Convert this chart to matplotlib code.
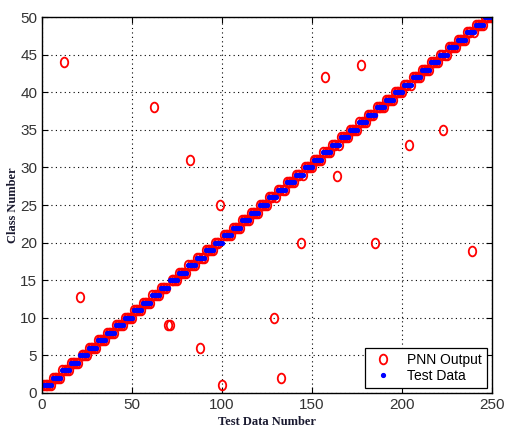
import matplotlib
matplotlib.use("Agg")
import matplotlib.pyplot as plt
from matplotlib.path import Path
from matplotlib.transforms import Affine2D

# test data: class number of each of the 250 test samples
test_class = [
    1, 1, 1, 1, 1, 2, 2, 2, 2, 2, 3, 3, 3, 3, 3, 4, 4, 4, 4, 4, 5, 5, 5, 5, 5,
    6, 6, 6, 6, 6, 7, 7, 7, 7, 7, 8, 8, 8, 8, 8, 9, 9, 9, 9, 9, 10, 10, 10, 10, 10,
    11, 11, 11, 11, 11, 12, 12, 12, 12, 12, 13, 13, 13, 13, 13, 14, 14, 14, 14, 14, 15, 15, 15, 15, 15,
    16, 16, 16, 16, 16, 17, 17, 17, 17, 17, 18, 18, 18, 18, 18, 19, 19, 19, 19, 19, 20, 20, 20, 20, 20,
    21, 21, 21, 21, 21, 22, 22, 22, 22, 22, 23, 23, 23, 23, 23, 24, 24, 24, 24, 24, 25, 25, 25, 25, 25,
    26, 26, 26, 26, 26, 27, 27, 27, 27, 27, 28, 28, 28, 28, 28, 29, 29, 29, 29, 29, 30, 30, 30, 30, 30,
    31, 31, 31, 31, 31, 32, 32, 32, 32, 32, 33, 33, 33, 33, 33, 34, 34, 34, 34, 34, 35, 35, 35, 35, 35,
    36, 36, 36, 36, 36, 37, 37, 37, 37, 37, 38, 38, 38, 38, 38, 39, 39, 39, 39, 39, 40, 40, 40, 40, 40,
    41, 41, 41, 41, 41, 42, 42, 42, 42, 42, 43, 43, 43, 43, 43, 44, 44, 44, 44, 44, 45, 45, 45, 45, 45,
    46, 46, 46, 46, 46, 47, 47, 47, 47, 47, 48, 48, 48, 48, 48, 49, 49, 49, 49, 49, 50, 50, 50, 50, 50,
]
test_number = list(range(1, len(test_class) + 1))

# misclassified samples: test number -> PNN output
wrong_number = [12, 21, 62, 70, 71, 82, 88, 99, 100, 129, 133, 144, 157, 164, 177, 185, 204, 223, 239]
wrong_output = [44, 12.8, 38, 9.1, 9.1, 31, 6, 25, 1, 10, 2, 20, 42, 28.8, 43.6, 20, 33, 35, 18.9]

pnn_output = list(test_class)
for n, v in zip(wrong_number, wrong_output):
    pnn_output[n - 1] = v

plt.rcParams['font.family'] = ['Liberation Sans Narrow', 'Liberation Sans', 'DejaVu Sans']

# slightly tall circle, like the stretched original
ellipse = Path.unit_circle().transformed(Affine2D().scale(1.0, 1.3))

fig = plt.figure(figsize=(5.08, 4.32), dpi=100)
ax = fig.add_axes([0.0827, 0.0903, 0.8858, 0.8703])

ax.plot(test_number, pnn_output, linestyle='none', marker=ellipse, color='red',
        mfc='none', ms=7, mew=1.3, label='PNN Output')
ax.plot(test_number, test_class, '.', color='blue', ms=5.5, label='Test Data')

ax.set_xlim(0, 250)
ax.set_ylim(0, 50)
ax.set_xticks(range(0, 251, 50))
ax.set_yticks(range(0, 51, 5))
ax.grid(True, color='black', linestyle=(0, (1, 3)), linewidth=0.8)
ax.tick_params(direction='in', top=True, right=True, labelsize=11, length=4,
               labelcolor='#333333')
for s in ax.spines.values():
    s.set_linewidth(1.0)

ax.set_xlabel('Test Data Number', family='Liberation Serif', fontweight='bold',
              fontsize=9, labelpad=3, color='#1a1a30')
ax.set_ylabel('Class Number', family='Liberation Serif', fontweight='bold',
              fontsize=9, labelpad=1, color='#1a1a30')

leg = ax.legend(loc='lower right', fancybox=False, framealpha=1, edgecolor='black',
                fontsize=10, handletextpad=0.8, borderaxespad=0.35,
                labelspacing=0.1, handlelength=1.8)
leg.get_frame().set_linewidth(0.9)
for t in leg.get_texts():
    t.set_family(['Liberation Sans'])

fig.savefig('out.png', dpi=100)
